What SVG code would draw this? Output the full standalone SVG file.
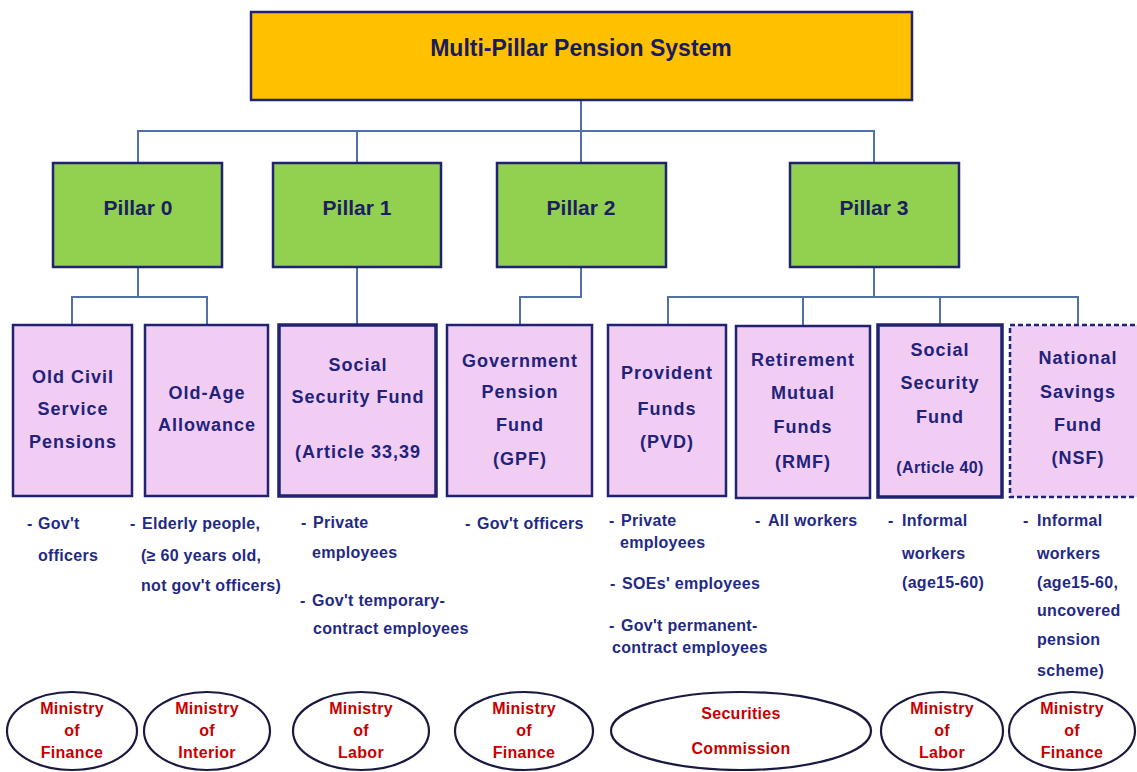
<svg xmlns="http://www.w3.org/2000/svg" width="1137" height="772" viewBox="0 0 1137 772">
<style>
.title{font-family:"Liberation Sans",Arial,sans-serif;font-weight:bold;font-size:23px;fill:#1a1a5e;text-anchor:middle}
.pillar{font-family:"Liberation Sans",Arial,sans-serif;font-weight:bold;font-size:21px;fill:#1a1f5e;text-anchor:middle}
.lbl{font-family:"Liberation Sans",Arial,sans-serif;font-weight:bold;font-size:18px;letter-spacing:1px;fill:#22227a;text-anchor:middle}
.lbls{font-family:"Liberation Sans",Arial,sans-serif;font-weight:bold;font-size:16px;letter-spacing:0.4px;fill:#22227a;text-anchor:middle}
.desc{font-family:"Liberation Sans",Arial,sans-serif;font-weight:bold;font-size:16px;letter-spacing:0.3px;fill:#1f2a86}
.min{font-family:"Liberation Sans",Arial,sans-serif;font-weight:bold;font-size:16px;letter-spacing:0.3px;fill:#c80000;text-anchor:middle}
.topbox{fill:#ffc000;stroke:#1f2370;stroke-width:2.5}
.pbox{fill:#92d050;stroke:#1f2370;stroke-width:2.5}
.sbox{fill:#f1cdf3;stroke:#1f2370;stroke-width:2.5}
.thick{stroke-width:3.5}
.dash{stroke-dasharray:5 3}
.ell{fill:none;stroke:#1a1a40;stroke-width:2.2}
.conn{fill:none;stroke:#5070a8;stroke-width:2}
</style>
<rect width="1137" height="772" fill="#ffffff"/>
<g id="connectors">
<path class="conn" d="M581,100 V163"/>
<path class="conn" d="M138,163 V131 H874 V163"/>
<path class="conn" d="M357,131 V163"/>
<path class="conn" d="M138,267 V297"/>
<path class="conn" d="M72,325 V297 H207 V325"/>
<path class="conn" d="M357,267 V325"/>
<path class="conn" d="M581,267 V297 H520 V325"/>
<path class="conn" d="M874,267 V297"/>
<path class="conn" d="M668,325 V297 H1078 V325"/>
<path class="conn" d="M803,297 V326"/>
<path class="conn" d="M940,297 V325"/>
</g>
<g id="root">
<rect class="topbox" x="251" y="12" width="661" height="88"/>
<text class="title" x="581" y="56">Multi-Pillar Pension System</text>
</g>
<g id="pillar0"><rect class="pbox" x="53" y="163" width="169" height="104"/><text class="pillar" x="138" y="215">Pillar 0</text></g>
<g id="pillar1"><rect class="pbox" x="273" y="163" width="168" height="104"/><text class="pillar" x="357" y="215">Pillar 1</text></g>
<g id="pillar2"><rect class="pbox" x="497" y="163" width="169" height="104"/><text class="pillar" x="581" y="215">Pillar 2</text></g>
<g id="pillar3"><rect class="pbox" x="790" y="163" width="169" height="104"/><text class="pillar" x="874" y="215">Pillar 3</text></g>

<g id="old-civil">
<rect class="sbox" x="13" y="325" width="119" height="171"/>
<text class="lbl" x="73" y="383">Old Civil</text>
<text class="lbl" x="73" y="415">Service</text>
<text class="lbl" x="73" y="448">Pensions</text>
</g>
<g id="old-age">
<rect class="sbox" x="145" y="325" width="123" height="171"/>
<text class="lbl" x="207" y="399">Old-Age</text>
<text class="lbl" x="207" y="431">Allowance</text>
</g>
<g id="ssf-33">
<rect class="sbox thick" x="279" y="325" width="157" height="171"/>
<text class="lbl" x="358" y="371">Social</text>
<text class="lbl" x="358" y="403">Security Fund</text>
<text class="lbl" x="358" y="458">(Article 33,39</text>
</g>
<g id="gpf">
<rect class="sbox" x="447" y="325" width="145" height="171"/>
<text class="lbl" x="520" y="367">Government</text>
<text class="lbl" x="520" y="398">Pension</text>
<text class="lbl" x="520" y="431">Fund</text>
<text class="lbl" x="520" y="465">(GPF)</text>
</g>
<g id="pvd">
<rect class="sbox" x="608" y="325" width="118" height="171"/>
<text class="lbl" x="667" y="379">Provident</text>
<text class="lbl" x="667" y="415">Funds</text>
<text class="lbl" x="667" y="448">(PVD)</text>
</g>
<g id="rmf">
<rect class="sbox" x="736" y="326" width="134" height="172"/>
<text class="lbl" x="803" y="366">Retirement</text>
<text class="lbl" x="803" y="399">Mutual</text>
<text class="lbl" x="803" y="433">Funds</text>
<text class="lbl" x="803" y="468">(RMF)</text>
</g>
<g id="ssf-40">
<rect class="sbox thick" x="878" y="325" width="124" height="172"/>
<text class="lbl" x="940" y="356">Social</text>
<text class="lbl" x="940" y="389">Security</text>
<text class="lbl" x="940" y="423">Fund</text>
<text class="lbls" x="940" y="473">(Article 40)</text>
</g>
<g id="nsf">
<rect class="sbox dash" x="1010" y="325" width="140" height="172"/>
<text class="lbl" x="1078" y="364">National</text>
<text class="lbl" x="1078" y="398">Savings</text>
<text class="lbl" x="1078" y="431">Fund</text>
<text class="lbl" x="1078" y="464">(NSF)</text>
</g>

<g id="desc-old-civil">
<text class="desc" y="529"><tspan x="27">- </tspan><tspan x="38">Gov't</tspan></text>
<text class="desc" x="38" y="561">officers</text>
</g>
<g id="desc-old-age">
<text class="desc" y="529"><tspan x="130">- </tspan><tspan x="142">Elderly people,</tspan></text>
<text class="desc" x="141" y="561">(≥ 60 years old,</text>
<text class="desc" x="141" y="591">not gov't officers)</text>
</g>
<g id="desc-ssf-33">
<text class="desc" y="528"><tspan x="301">- </tspan><tspan x="313">Private</tspan></text>
<text class="desc" x="312" y="558">employees</text>
<text class="desc" y="606"><tspan x="300">- </tspan><tspan x="312">Gov't temporary-</tspan></text>
<text class="desc" x="313" y="634">contract employees</text>
</g>
<g id="desc-gpf">
<text class="desc" y="529"><tspan x="465">- </tspan><tspan x="477">Gov't officers</tspan></text>
</g>
<g id="desc-pvd">
<text class="desc" y="526"><tspan x="609">- </tspan><tspan x="621">Private</tspan></text>
<text class="desc" x="620" y="548">employees</text>
<text class="desc" y="589"><tspan x="610">- </tspan><tspan x="622">SOEs' employees</tspan></text>
<text class="desc" y="631"><tspan x="609">- </tspan><tspan x="621">Gov't permanent-</tspan></text>
<text class="desc" x="612" y="653">contract employees</text>
</g>
<g id="desc-rmf">
<text class="desc" y="526"><tspan x="755">- </tspan><tspan x="768">All workers</tspan></text>
</g>
<g id="desc-ssf-40">
<text class="desc" y="526"><tspan x="888">- </tspan><tspan x="902">Informal</tspan></text>
<text class="desc" x="902" y="559">workers</text>
<text class="desc" x="902" y="588">(age15-60)</text>
</g>
<g id="desc-nsf">
<text class="desc" y="526"><tspan x="1023">- </tspan><tspan x="1037">Informal</tspan></text>
<text class="desc" x="1037" y="559">workers</text>
<text class="desc" x="1037" y="588">(age15-60,</text>
<text class="desc" x="1037" y="616">uncovered</text>
<text class="desc" x="1037" y="645">pension</text>
<text class="desc" x="1037" y="676">scheme)</text>
</g>

<g id="reg-mof-1">
<ellipse class="ell" cx="72" cy="731" rx="65" ry="39"/>
<text class="min" x="72" y="714">Ministry</text>
<text class="min" x="72" y="736">of</text>
<text class="min" x="72" y="758">Finance</text>
</g>
<g id="reg-moi">
<ellipse class="ell" cx="207" cy="731" rx="63" ry="39"/>
<text class="min" x="207" y="714">Ministry</text>
<text class="min" x="207" y="736">of</text>
<text class="min" x="207" y="758">Interior</text>
</g>
<g id="reg-mol-1">
<ellipse class="ell" cx="361" cy="731" rx="68" ry="39"/>
<text class="min" x="361" y="714">Ministry</text>
<text class="min" x="361" y="736">of</text>
<text class="min" x="361" y="758">Labor</text>
</g>
<g id="reg-mof-2">
<ellipse class="ell" cx="524" cy="731" rx="69" ry="39"/>
<text class="min" x="524" y="714">Ministry</text>
<text class="min" x="524" y="736">of</text>
<text class="min" x="524" y="758">Finance</text>
</g>
<g id="reg-sec">
<ellipse class="ell" cx="741" cy="731" rx="130" ry="39"/>
<text class="min" x="741" y="719">Securities</text>
<text class="min" x="741" y="754">Commission</text>
</g>
<g id="reg-mol-2">
<ellipse class="ell" cx="942" cy="731" rx="61" ry="39"/>
<text class="min" x="942" y="714">Ministry</text>
<text class="min" x="942" y="736">of</text>
<text class="min" x="942" y="758">Labor</text>
</g>
<g id="reg-mof-3">
<ellipse class="ell" cx="1072" cy="731" rx="63" ry="39"/>
<text class="min" x="1072" y="714">Ministry</text>
<text class="min" x="1072" y="736">of</text>
<text class="min" x="1072" y="758">Finance</text>
</g>
</svg>
